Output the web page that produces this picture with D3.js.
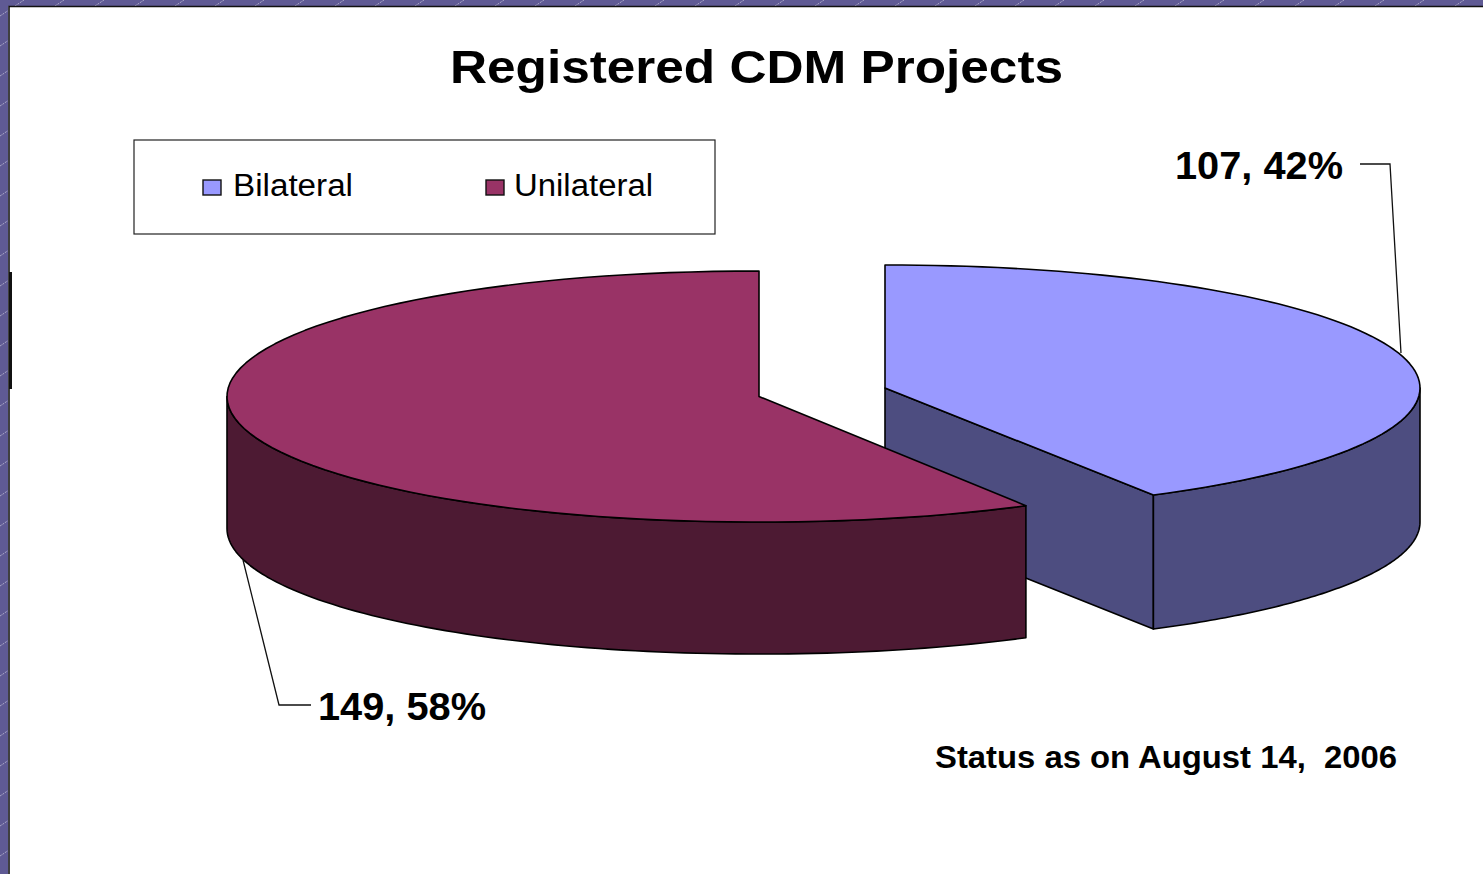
<!DOCTYPE html>
<html><head><meta charset="utf-8">
<script src="https://cdnjs.cloudflare.com/ajax/libs/d3/7.8.5/d3.min.js"></script>
<style>html,body{margin:0;padding:0;background:#fff;overflow:hidden}svg{display:block}text{font-family:"Liberation Sans",Arial,sans-serif;fill:#000;white-space:pre}</style>
</head><body><div id="chart"></div>
<script>
const categories = ["Bilateral", "Unilateral"];
const values = [107, 149];
const labels = ["107, 42%", "149, 58%"];
const topColors = ["#9999FF", "#993366"];
const wallColors = ["#4D4D80", "#4D1A33"];
const chartTitle = "Registered CDM Projects";
const statusNote = "Status as on August 14,  2006";

const W = 1483, H = 874;
const svg = d3.select("#chart").append("svg").attr("width", W).attr("height", H);

// slide background
const defs = svg.append("defs");
const pat = defs.append("pattern").attr("id", "bgp").attr("patternUnits", "userSpaceOnUse")
  .attr("width", 40).attr("height", 30);
pat.append("rect").attr("width", 40).attr("height", 30).attr("fill", "#5F5A94");
pat.append("path").attr("d", "M0 16L24 0").attr("stroke", "#A9A6C6").attr("stroke-width", 1).attr("stroke-dasharray", "2 1");
svg.append("rect").attr("width", W).attr("height", H).attr("fill", "url(#bgp)");
svg.append("rect").attr("x", 8).attr("y", 6).attr("width", W - 8).attr("height", H - 6).attr("fill", "#fff");
svg.append("path").attr("d", `M9 ${H}V6.5H${W}`).attr("fill", "none").attr("stroke", "#111").attr("stroke-width", 1.6);
svg.append("rect").attr("x", 9).attr("y", 272).attr("width", 3).attr("height", 117).attr("fill", "#111");

const stretched = (sel, len) => sel.attr("textLength", len).attr("lengthAdjust", "spacingAndGlyphs");

// title
svg.append("text").attr("x", 450).attr("y", 83)
  .attr("font-size", 47).attr("font-weight", "bold").call(stretched, 613).text(chartTitle);

// legend
svg.append("rect").attr("x", 134).attr("y", 140).attr("width", 581).attr("height", 94)
  .attr("fill", "#fff").attr("stroke", "#222").attr("stroke-width", 1.2);
const legendX = d3.scalePoint().domain(categories).range([203, 486]);
const legendLen = [120, 139];
const lg = svg.selectAll("g.lg").data(categories).join("g").attr("class", "lg")
  .attr("transform", d => `translate(${legendX(d)},0)`);
lg.append("rect").attr("y", 180).attr("width", 18).attr("height", 15)
  .attr("fill", (d, i) => topColors[i]).attr("stroke", "#111").attr("stroke-width", 1.4);
lg.append("text").attr("x", (d, i) => i ? 28 : 30).attr("y", 196).attr("font-size", 31)
  .attr("textLength", (d, i) => legendLen[i]).attr("lengthAdjust", "spacingAndGlyphs").text(d => d);

// pie geometry, slices run clockwise from 12 o'clock
const arcs = d3.pie().sort(null).startAngle(0).endAngle(2 * Math.PI)(values);
const geom = [
  {cx: 885, cy: 388, rx: 535, ry: 123, depth: 134},
  {cx: 759, cy: 396.5, rx: 532, ry: 125.5, depth: 132}
];
const projector = g => {
  const sx = d3.scalePow().exponent(0.975).domain([-1, 1]).range([g.cx - g.rx, g.cx + g.rx]);
  const sy = d3.scaleLinear().domain([-1, 1]).range([g.cy - g.ry, g.cy + g.ry]);
  return a => [sx(Math.sin(a)), sy(-Math.cos(a))];
};
const sweep = (a0, a1) => d3.range(0, 1.0001, 1 / 90).map(t => a0 + (a1 - a0) * t);
const line = d3.line();

const marks = svg.append("g").attr("stroke", "#000").attr("stroke-width", 1.6).attr("stroke-linejoin", "round");
arcs.forEach((arc, i) => {
  const g = geom[i], pt = projector(g);
  const down = p => [p[0], p[1] + g.depth];
  const c = [g.cx, g.cy];
  const edge = sweep(arc.startAngle, arc.endAngle).map(pt);
  const a0 = arc.startAngle, a1 = arc.endAngle;
  // outer wall: the part of the rim that faces the viewer (90 to 270 degrees)
  const w0 = Math.max(a0, Math.PI / 2), w1 = Math.min(a1, 3 * Math.PI / 2);
  const rim = sweep(w0, w1).map(pt);
  if (i === 0) {
    // cut face of the right slice is visible
    const e = pt(a1);
    marks.append("path").attr("d", line([c, e, down(e), down(c)]) + "Z").attr("fill", wallColors[i]);
  }
  marks.append("path").attr("d", line(rim.concat(rim.map(down).reverse())) + "Z").attr("fill", wallColors[i]);
  marks.append("path").attr("d", line([c].concat(edge)) + "Z").attr("fill", topColors[i]);
});

// data labels and leaders
const leaders = svg.append("g").attr("fill", "none").attr("stroke", "#111").attr("stroke-width", 1.3);
leaders.append("path").attr("d", line([[1360, 164], [1390, 164], [1401, 353]]));
leaders.append("path").attr("d", line([[243, 560], [279, 705], [311, 705]]));
svg.append("text").attr("x", 1175).attr("y", 179).attr("font-size", 38).attr("font-weight", "bold").call(stretched, 168).text(labels[0]);
svg.append("text").attr("x", 318).attr("y", 720).attr("font-size", 38).attr("font-weight", "bold").call(stretched, 168).text(labels[1]);

// note
svg.append("text").attr("x", 935).attr("y", 768).attr("font-size", 31).attr("font-weight", "bold").call(stretched, 462).text(statusNote);
</script></body></html>
